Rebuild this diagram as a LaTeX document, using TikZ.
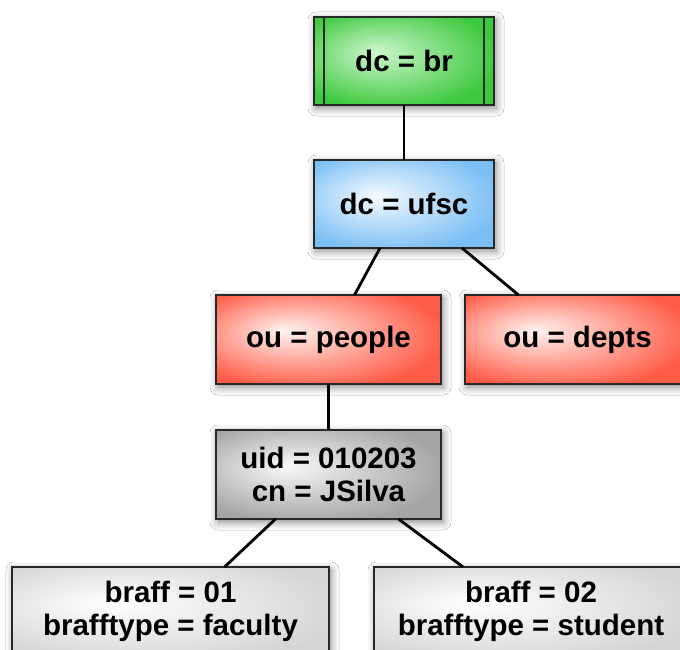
\documentclass[tikz,border=0pt]{standalone}
\usepackage{fontspec}
\setmainfont{Liberation Sans}
\usetikzlibrary{shadows.blur}

% Entry colours: light centre, saturated rim
\definecolor{greenin}{RGB}{205,246,205}
\definecolor{greenout}{RGB}{60,200,60}
\definecolor{bluein}{RGB}{244,250,255}
\definecolor{blueout}{RGB}{122,190,244}
\definecolor{redin}{RGB}{255,244,240}
\definecolor{redout}{RGB}{255,92,72}
\definecolor{greyin}{RGB}{248,248,248}
\definecolor{greyout}{RGB}{164,164,164}
\definecolor{paleout}{RGB}{212,212,212}
\definecolor{rim}{RGB}{40,40,40}

% Off-centre glow shadings, one per entry colour
\pgfdeclareradialshading{glowgreen}{\pgfpoint{-8bp}{5bp}}{color(0bp)=(greenin); color(30bp)=(greenout); color(50bp)=(greenout)}
\pgfdeclareradialshading{glowblue}{\pgfpoint{-8bp}{5bp}}{color(0bp)=(bluein); color(30bp)=(blueout); color(50bp)=(blueout)}
\pgfdeclareradialshading{glowred}{\pgfpoint{-10bp}{5bp}}{color(0bp)=(redin); color(30bp)=(redout); color(50bp)=(redout)}
\pgfdeclareradialshading{glowgrey}{\pgfpoint{-10bp}{5bp}}{color(0bp)=(greyin); color(30bp)=(greyout); color(50bp)=(greyout)}
\pgfdeclareradialshading{glowpale}{\pgfpoint{-10bp}{5bp}}{color(0bp)=(white); color(32bp)=(paleout); color(50bp)=(paleout)}

\tikzset{
  entry/.style={draw=rim, line width=1.8pt, inner sep=0pt, outer sep=0pt,
    align=center, minimum height=89pt,
    font=\fontsize{29.5}{32.5}\selectfont\bfseries,
    blur shadow={shadow blur radius=8pt, shadow xshift=2pt, shadow yshift=-3pt, shadow opacity=50}},
  link/.style={line width=2.8pt, black}
}

\begin{document}
\begin{tikzpicture}[x=1pt, y=-1pt]
  \useasboundingbox (0,0) rectangle (680,650);
  \fill[white] (0,0) rectangle (680,650);
  \clip (0,0) rectangle (680,650);

  % directory tree entries
  \node[entry, shading=glowgreen, minimum width=180pt, minimum height=88pt] (br) at (404,61) {dc = br};
  \node[entry, shading=glowblue, minimum width=180pt, minimum height=88pt] (ufsc) at (404,204) {dc = ufsc};
  \node[entry, shading=glowred, minimum width=225pt] (people) at (328.5,339.5) {ou = people};
  \node[entry, shading=glowred, minimum width=225pt] (depts) at (577.5,339.5) {ou = depts};
  \node[entry, shading=glowgrey, minimum width=225pt] (uid) at (328.5,474.5) {uid = 010203\\cn = JSilva};
  \node[entry, shading=glowpale, minimum width=317pt] (faculty) at (170.5,611.5) {braff = 01\\brafftype = faculty};
  \node[entry, shading=glowpale, minimum width=314pt] (student) at (531,611.5) {braff = 02\\brafftype = student};

  % side bars of the root entry
  \draw[rim, line width=1.8pt] ([xshift=10pt]br.north west) -- ([xshift=10pt]br.south west);
  \draw[rim, line width=1.8pt] ([xshift=-10pt]br.north east) -- ([xshift=-10pt]br.south east);

  % tree links
  \draw[link] (br.south) -- (ufsc.north);
  \draw[link] ([xshift=-24pt]ufsc.south) -- ([xshift=26pt]people.north);
  \draw[link] ([xshift=58pt]ufsc.south) -- ([xshift=-59pt]depts.north);
  \draw[link] (people.south) -- (uid.north);
  \draw[link] ([xshift=-53pt]uid.south) -- ([xshift=54pt]faculty.north);
  \draw[link] ([xshift=70pt]uid.south) -- ([xshift=-68pt]student.north);
\end{tikzpicture}
\end{document}
